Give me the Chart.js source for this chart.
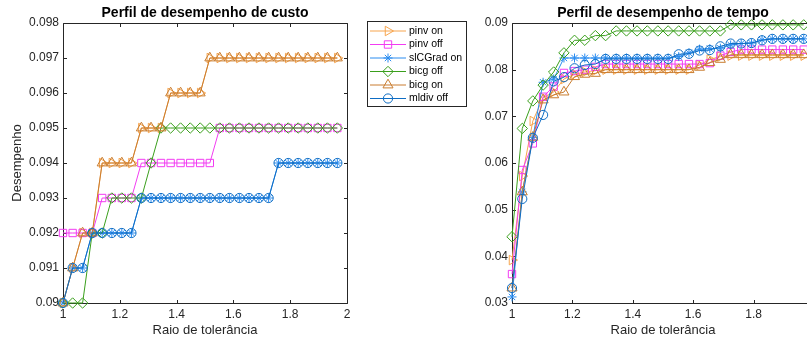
<!DOCTYPE html>
<html><head><meta charset="utf-8">
<script src="https://cdn.jsdelivr.net/npm/chart.js@4.4.1/dist/chart.umd.min.js"></script>
<style>
html,body{margin:0;padding:0;background:#fff;}
#wrap{position:relative;width:807px;height:340px;overflow:hidden;background:#fff;}
.box{position:absolute;top:0;height:340px;}
</style></head><body>
<div id="wrap">
  <div class="box" style="left:0;width:480px;"><canvas id="c1" width="480" height="340"></canvas></div>
  <div class="box" style="left:440px;width:390px;"><canvas id="c2" width="390" height="340"></canvas></div>
</div>
<script>
// ---------- data ----------
const xs = [1.000,1.034,1.069,1.103,1.138,1.172,1.207,1.241,1.276,1.310,1.345,1.379,1.414,1.448,1.483,1.517,1.552,1.586,1.621,1.655,1.690,1.724,1.759,1.793,1.828,1.862,1.897,1.931,1.966];
const seriesNames = ['pinv on','pinv off','slCGrad on','bicg off','bicg on','mldiv off'];

// cost profile (left)
const pinvOnCost   = [0.090,0.091,0.092,0.092,0.094,0.094,0.094,0.094,0.095,0.095,0.095,0.096,0.096,0.096,0.096,0.097,0.097,0.097,0.097,0.097,0.097,0.097,0.097,0.097,0.097,0.097,0.097,0.097,0.097];
const pinvOffCost  = [0.092,0.092,0.092,0.092,0.093,0.093,0.093,0.093,0.094,0.094,0.094,0.094,0.094,0.094,0.094,0.094,0.095,0.095,0.095,0.095,0.095,0.095,0.095,0.095,0.095,0.095,0.095,0.095,0.095];
const slcgOnCost   = [0.090,0.091,0.091,0.092,0.092,0.092,0.092,0.092,0.093,0.093,0.093,0.093,0.093,0.093,0.093,0.093,0.093,0.093,0.093,0.093,0.093,0.093,0.094,0.094,0.094,0.094,0.094,0.094,0.094];
const bicgOffCost  = [0.090,0.090,0.090,0.092,0.092,0.093,0.093,0.093,0.093,0.094,0.095,0.095,0.095,0.095,0.095,0.095,0.095,0.095,0.095,0.095,0.095,0.095,0.095,0.095,0.095,0.095,0.095,0.095,0.095];
const bicgOnCost   = [0.090,0.091,0.092,0.092,0.094,0.094,0.094,0.094,0.095,0.095,0.095,0.096,0.096,0.096,0.096,0.097,0.097,0.097,0.097,0.097,0.097,0.097,0.097,0.097,0.097,0.097,0.097,0.097,0.097];
const mldivOffCost = [0.090,0.091,0.091,0.092,0.092,0.092,0.092,0.092,0.093,0.093,0.093,0.093,0.093,0.093,0.093,0.093,0.093,0.093,0.093,0.093,0.093,0.093,0.094,0.094,0.094,0.094,0.094,0.094,0.094];

// time profile (right)
const pinvOnTime   = [0.0392,0.0572,0.0690,0.0740,0.0752,0.0780,0.0790,0.0795,0.0798,0.0800,0.0800,0.0800,0.0800,0.0800,0.0800,0.0800,0.0800,0.0800,0.0810,0.0822,0.0828,0.0830,0.0830,0.0830,0.0830,0.0830,0.0830,0.0830,0.0830];
const pinvOffTime  = [0.0362,0.0585,0.0642,0.0742,0.0764,0.0793,0.0797,0.0800,0.0806,0.0812,0.0812,0.0812,0.0812,0.0812,0.0812,0.0812,0.0812,0.0812,0.0812,0.0814,0.0830,0.0838,0.0843,0.0843,0.0843,0.0843,0.0843,0.0843,0.0843];
const slcgOnTime   = [0.0313,0.0538,0.0655,0.0773,0.0780,0.0825,0.0825,0.0825,0.0825,0.0825,0.0825,0.0825,0.0825,0.0825,0.0825,0.0825,0.0828,0.0836,0.0844,0.0845,0.0846,0.0853,0.0856,0.0857,0.0864,0.0866,0.0866,0.0866,0.0866];
const bicgOffTime  = [0.0442,0.0674,0.0733,0.0767,0.0795,0.0836,0.0863,0.0863,0.0873,0.0873,0.0883,0.0883,0.0883,0.0883,0.0883,0.0883,0.0883,0.0883,0.0883,0.0883,0.0883,0.0896,0.0896,0.0896,0.0896,0.0896,0.0896,0.0896,0.0896];
const bicgOnTime   = [0.0332,0.0538,0.0655,0.0735,0.0746,0.0752,0.0785,0.0790,0.0792,0.0800,0.0800,0.0800,0.0800,0.0800,0.0800,0.0800,0.0800,0.0800,0.0805,0.0815,0.0822,0.0832,0.0832,0.0832,0.0832,0.0832,0.0832,0.0832,0.0832];
const mldivOffTime = [0.0332,0.0523,0.0654,0.0703,0.0775,0.0784,0.0803,0.0810,0.0812,0.0823,0.0823,0.0823,0.0823,0.0823,0.0823,0.0823,0.0833,0.0834,0.0841,0.0842,0.0850,0.0856,0.0856,0.0857,0.0863,0.0866,0.0866,0.0866,0.0866];

const xTicks = [1, 1.2, 1.4, 1.6, 1.8, 2];
const costTicks = [0.09,0.091,0.092,0.093,0.094,0.095,0.096,0.097,0.098];
const timeTicks = [0.03,0.04,0.05,0.06,0.07,0.08,0.09];

// ---------- styles ----------
const colors = ['#F7A54E','#F23CF2','#2A8CF0','#3A9F1C','#C97D30','#0E6DC4'];
const markers = ['triangle','rect','star','rectRot','triangle','circle'];
const rotations = [90,0,0,0,0,0];
const radii = [5.5,5.2,4.5,5.2,5.8,4.6];
const FONT = "'Liberation Sans', Arial, Helvetica, sans-serif";
const AX = '#262626';

Chart.defaults.font.family = FONT;

function makeSets(arrs){
  return arrs.map((arr,i)=>({
    label: seriesNames[i],
    data: xs.map((x,j)=>({x:x, y:arr[j]})),
    borderColor: colors[i],
    backgroundColor: 'rgba(0,0,0,0)',
    pointBorderColor: colors[i],
    pointBackgroundColor: 'rgba(0,0,0,0)',
    borderWidth: 1,
    pointBorderWidth: 1,
    pointStyle: markers[i],
    rotation: rotations[i],
    pointRadius: radii[i],
    pointHoverRadius: radii[i],
    tension: 0,
    fill: false,
    clip: false,
    order: 6 - i
  }));
}

const fmtY = v => String(+Number(v).toFixed(4));
const fmtX = v => String(Math.round(v*10)/10);

const framePlugin = {
  id: 'frame',
  beforeDatasetsDraw(chart){
    const {ctx, chartArea:a, scales} = chart;
    const x = scales.x, y = scales.y;
    const L = Math.round(a.left)+0.5, R = Math.round(a.right)+0.5, T = Math.round(a.top)+0.5, B = Math.round(a.bottom)+0.5;
    ctx.save();
    ctx.strokeStyle = AX; ctx.lineWidth = 1;
    ctx.beginPath();
    ctx.rect(L, T, R-L, B-T);
    const tl = 3.5;
    x.ticks.forEach(t=>{
      const p = Math.round(x.getPixelForValue(t.value))+0.5;
      ctx.moveTo(p,B); ctx.lineTo(p,B-tl);
      ctx.moveTo(p,T); ctx.lineTo(p,T+tl);
    });
    y.ticks.forEach(t=>{
      const p = Math.round(y.getPixelForValue(t.value))+0.5;
      ctx.moveTo(L,p); ctx.lineTo(L+tl,p);
      ctx.moveTo(R,p); ctx.lineTo(R-tl,p);
    });
    ctx.stroke();
    ctx.restore();
  }
};

const axTitlePlugin = {
  id: 'axTitle',
  afterDraw(chart, args, opts){
    const {ctx, chartArea:a} = chart;
    ctx.save();
    ctx.font = "bold 14px " + FONT;
    ctx.fillStyle = '#000';
    ctx.textAlign = 'center';
    ctx.textBaseline = 'middle';
    ctx.fillText(opts.text, (a.left+a.right)/2, 13);
    ctx.restore();
  }
};

const legendPlugin = {
  id: 'boxLegend',
  afterDraw(chart, args, opts){
    if(!opts.show) return;
    const ctx = chart.ctx;
    const x0 = 367.5, y0 = 21.5, w = 99, h = 85;
    ctx.save();
    ctx.fillStyle = '#fff';
    ctx.fillRect(x0, y0, w, h);
    ctx.strokeStyle = AX; ctx.lineWidth = 1;
    ctx.strokeRect(x0, y0, w, h);
    ctx.font = "10.5px " + FONT;
    ctx.textBaseline = 'middle';
    ctx.textAlign = 'left';
    chart.data.datasets.forEach((d,i)=>{
      const yy = 31 + i*13.5;
      ctx.strokeStyle = d.borderColor;
      ctx.lineWidth = 1;
      ctx.beginPath(); ctx.moveTo(370, yy); ctx.lineTo(406, yy); ctx.stroke();
      ctx.fillStyle = 'rgba(0,0,0,0)';
      Chart.helpers.drawPoint(ctx, {pointStyle:d.pointStyle, rotation:d.rotation, radius:d.pointRadius, borderWidth:1}, 388, yy);
      ctx.fillStyle = '#000';
      ctx.fillText(d.label, 409, yy);
    });
    ctx.restore();
  }
};

function makeChart(id, arrs, yMin, yMax, yTickVals, title, yTitle, yAxisW, padRight, showLegend){
  return new Chart(document.getElementById(id), {
    type: 'line',
    data: { datasets: makeSets(arrs) },
    options: {
      responsive: false,
      animation: false,
      events: [],
      layout: { padding: { left: 0, right: padRight, top: 23, bottom: 0 } },
      plugins: {
        legend: { display: false },
        tooltip: { enabled: false },
        title: { display: false },
        axTitle: { text: title },
        boxLegend: { show: showLegend }
      },
      scales: {
        x: {
          type: 'linear', min: 1, max: 2,
          afterBuildTicks: s => { s.ticks = xTicks.map(v=>({value:v})); },
          ticks: { padding: 4, color: AX, font: { size: 12 }, callback: fmtX, maxRotation: 0, autoSkip: false },
          grid: { display: false, drawTicks: false },
          border: { display: false },
          title: { display: true, text: 'Raio de tolerância', color: AX, font: { size: 13 }, padding: { top: 0, bottom: 2 } },
          afterFit: s => { s.height = 37; }
        },
        y: {
          type: 'linear', min: yMin, max: yMax,
          afterBuildTicks: s => { s.ticks = yTickVals.map(v=>({value:v})); },
          ticks: { padding: 4, color: AX, font: { size: 12 }, callback: fmtY, autoSkip: false },
          grid: { display: false, drawTicks: false },
          border: { display: false },
          title: { display: !!yTitle, text: yTitle || '', color: AX, font: { size: 13 }, padding: { top: 10, bottom: 0 } },
          afterFit: s => { s.width = yAxisW; }
        }
      }
    },
    plugins: [framePlugin, axTitlePlugin, legendPlugin]
  });
}

makeChart('c1', [pinvOnCost,pinvOffCost,slcgOnCost,bicgOffCost,bicgOnCost,mldivOffCost], 0.09, 0.098, costTicks,
  'Perfil de desempenho de custo', 'Desempenho', 63, 133, true);
makeChart('c2', [pinvOnTime,pinvOffTime,slcgOnTime,bicgOffTime,bicgOnTime,mldivOffTime], 0.03, 0.09, timeTicks,
  'Perfil de desempenho de tempo', '', 72, 16, false);
</script>
</body></html>
